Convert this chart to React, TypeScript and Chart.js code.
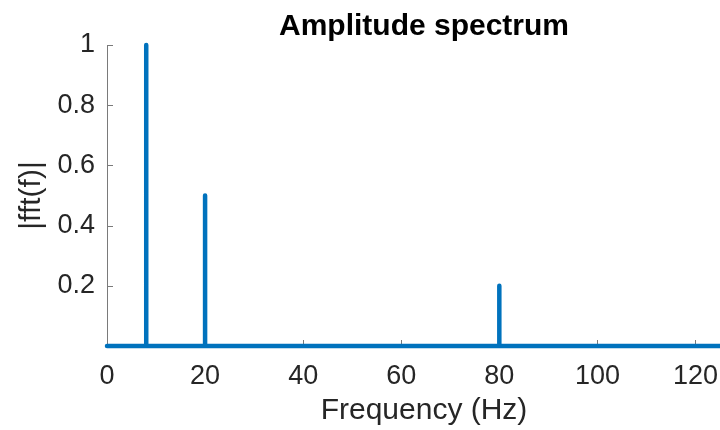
import React, { useEffect, useRef } from "react";
import { Chart, registerables } from "chart.js";

Chart.register(...registerables);

// ---- data ----
const peakFrequencies = [8, 20, 80]; // Hz
const peakAmplitudes = [1.0, 0.5, 0.2];
const freqStart = 0;
const freqEnd = 125;
const xTickValues = [0, 20, 40, 60, 80, 100, 120];
const yTickValues = [0.2, 0.4, 0.6, 0.8, 1];
const titleText = "Amplitude spectrum";
const xLabel = "Frequency (Hz)";
const yLabel = "|fft(f)|";

const LINE_BLUE = "#0072BD";
const AXIS_GRAY = "#7a7a7a";
const TEXT_DARK = "#262626";
const FONT = "'Liberation Sans', Arial, Helvetica, sans-serif";
// MATLAB axes box extends past the window; its centre (used for title/xlabel)
const AXES_CENTER_X = 424;

function buildSpectrum() {
  const pts: { x: number; y: number }[] = [{ x: freqStart, y: 0 }];
  peakFrequencies.forEach((f, i) => {
    pts.push({ x: f, y: 0 });
    pts.push({ x: f, y: peakAmplitudes[i] });
    pts.push({ x: f, y: 0 });
  });
  pts.push({ x: freqEnd, y: 0 });
  return pts;
}

const matlabPlugin = {
  id: "matlabDecor",
  beforeDatasetsDraw(chart: any) {
    const { ctx } = chart;
    const xs = chart.scales.x;
    const ys = chart.scales.y;
    const left = xs.getPixelForValue(freqStart);
    const bottom = ys.getPixelForValue(0);
    ctx.save();
    ctx.strokeStyle = AXIS_GRAY;
    ctx.lineWidth = 1;
    ctx.beginPath();
    yTickValues.forEach((v) => {
      const y = Math.round(ys.getPixelForValue(v)) + 0.5;
      ctx.moveTo(left, y);
      ctx.lineTo(left + 6, y);
    });
    xTickValues.forEach((v) => {
      const x = Math.round(xs.getPixelForValue(v)) + 0.5;
      ctx.moveTo(x, bottom);
      ctx.lineTo(x, bottom - 6);
    });
    ctx.stroke();
    ctx.restore();
  },
  afterDraw(chart: any) {
    const { ctx } = chart;
    ctx.save();
    ctx.textAlign = "center";
    ctx.textBaseline = "alphabetic";
    ctx.fillStyle = "#000000";
    ctx.font = `bold 30px ${FONT}`;
    ctx.fillText(titleText, AXES_CENTER_X, 35);
    ctx.fillStyle = TEXT_DARK;
    ctx.font = `30px ${FONT}`;
    ctx.fillText(xLabel, AXES_CENTER_X, 419);
    ctx.restore();
  },
};

export default function App() {
  const canvasRef = useRef<HTMLCanvasElement | null>(null);

  useEffect(() => {
    if (!canvasRef.current) return;
    const chart = new Chart(canvasRef.current, {
      type: "line",
      data: {
        datasets: [
          {
            data: buildSpectrum(),
            borderColor: LINE_BLUE,
            backgroundColor: LINE_BLUE,
            borderWidth: 4.5,
            borderCapStyle: "round",
            borderJoinStyle: "round",
            pointRadius: 0,
            tension: 0,
            clip: false as any,
          },
        ],
      },
      options: {
        animation: false,
        responsive: false,
        devicePixelRatio: 1,
        layout: { padding: { top: 45, right: 0, left: 0, bottom: 0 } },
        plugins: {
          legend: { display: false },
          tooltip: { enabled: false },
          title: { display: false },
        },
        scales: {
          x: {
            type: "linear",
            min: freqStart,
            max: freqEnd,
            afterBuildTicks: (s: any) => {
              s.ticks = xTickValues.map((v) => ({ value: v }));
            },
            afterFit: (s: any) => {
              s.height = 84;
              s.paddingLeft = 0;
              s.paddingRight = 0;
            },
            grid: { display: false, drawTicks: false },
            border: { display: true, color: AXIS_GRAY, width: 1 },
            ticks: {
              color: TEXT_DARK,
              font: { family: FONT, size: 27 },
              padding: 14,
              maxRotation: 0,
              autoSkip: false,
              callback: (v: any) => String(v),
            },
            title: { display: false, text: xLabel },
          },
          y: {
            type: "linear",
            min: 0,
            max: 1,
            afterBuildTicks: (s: any) => {
              s.ticks = yTickValues.map((v) => ({ value: v }));
            },
            afterFit: (s: any) => {
              s.width = 107;
            },
            grid: { display: false, drawTicks: false },
            border: { display: true, color: AXIS_GRAY, width: 1 },
            ticks: {
              color: TEXT_DARK,
              font: { family: FONT, size: 27 },
              padding: 12,
              autoSkip: false,
              callback: (v: any) => String(v),
            },
            title: {
              display: true,
              text: yLabel,
              color: TEXT_DARK,
              font: { family: FONT, size: 30 },
              padding: { top: 14, bottom: 0 },
            },
          },
        },
      },
      plugins: [matlabPlugin],
    });
    return () => chart.destroy();
  }, []);

  return (
    <div style={{ position: "absolute", left: 0, top: 0, width: 720, height: 430, background: "#fff" }}>
      <canvas ref={canvasRef} width={720} height={430} style={{ width: 720, height: 430, display: "block" }} />
    </div>
  );
}
